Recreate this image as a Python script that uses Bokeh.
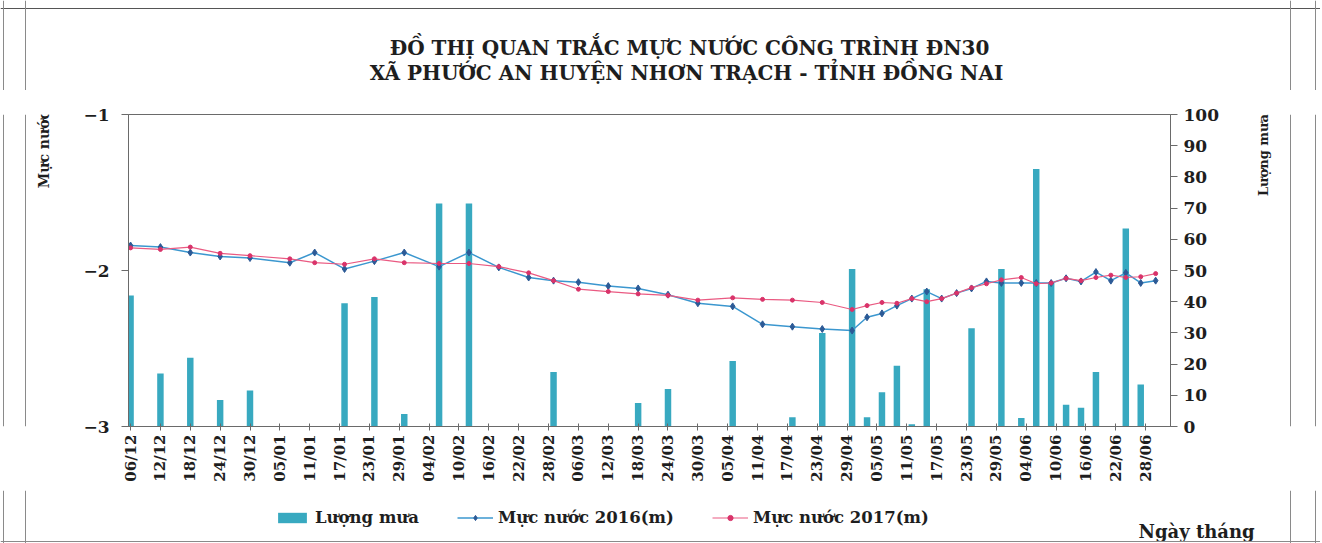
import pandas as pd
from math import pi
from bokeh.plotting import figure
from bokeh.layouts import column, row
from bokeh.models import (ColumnDataSource, Range1d, LinearAxis, FixedTicker,
                          SingleIntervalTicker, DatetimeTickFormatter, Label,
                          Legend, LegendItem, Span)
from bokeh.embed import file_html
from bokeh.resources import INLINE

# ---------------- data ----------------
dates = ["2016-12-06", "2016-12-12", "2016-12-18", "2016-12-24", "2016-12-30",
         "2017-01-07", "2017-01-12", "2017-01-18", "2017-01-24", "2017-01-30",
         "2017-02-06", "2017-02-12", "2017-02-18", "2017-02-24", "2017-03-01",
         "2017-03-06", "2017-03-12", "2017-03-18", "2017-03-24", "2017-03-30",
         "2017-04-06", "2017-04-12", "2017-04-18", "2017-04-24", "2017-04-30",
         "2017-05-03", "2017-05-06", "2017-05-09", "2017-05-12", "2017-05-15",
         "2017-05-18", "2017-05-21", "2017-05-24", "2017-05-27", "2017-05-30",
         "2017-06-03", "2017-06-06", "2017-06-09", "2017-06-12", "2017-06-15",
         "2017-06-18", "2017-06-21", "2017-06-24", "2017-06-27", "2017-06-30"]

level_2016 = [-1.84, -1.85, -1.885, -1.91, -1.92,
              -1.95, -1.885, -1.99, -1.94, -1.885,
              -1.975, -1.885, -1.98, -2.045, -2.065,
              -2.075, -2.10, -2.115, -2.155, -2.21,
              -2.23, -2.345, -2.36, -2.375, -2.385,
              -2.30, -2.275, -2.225, -2.18, -2.135,
              -2.18, -2.145, -2.115, -2.07, -2.08,
              -2.08, -2.08, -2.08, -2.05, -2.07,
              -2.01, -2.065, -2.015, -2.08, -2.065]

level_2017 = [-1.855, -1.865, -1.85, -1.89, -1.905,
              -1.925, -1.95, -1.96, -1.925, -1.95,
              -1.955, -1.955, -1.975, -2.015, -2.065,
              -2.12, -2.135, -2.15, -2.16, -2.19,
              -2.175, -2.185, -2.19, -2.205, -2.25,
              -2.225, -2.205, -2.21, -2.18, -2.20,
              -2.18, -2.145, -2.11, -2.085, -2.06,
              -2.045, -2.085, -2.08, -2.05, -2.065,
              -2.045, -2.03, -2.045, -2.04, -2.02]

rain = [42, 17, 22, 8.5, 11.5,
        0, 0, 39.5, 41.5, 4,
        71.5, 71.5, 0, 0, 17.5,
        0, 0, 7.5, 12, 0,
        21, 0, 3, 30, 50.5,
        3, 11, 19.5, 0.7, 44,
        0, 0, 31.5, 0, 50.5,
        2.7, 82.5, 46, 7, 6,
        17.5, 0, 63.5, 13.5, 0]

x_tick_labels = ["06/12", "12/12", "18/12", "24/12", "30/12", "05/01", "11/01",
                 "17/01", "23/01", "29/01", "04/02", "10/02", "16/02", "22/02",
                 "28/02", "06/03", "12/03", "18/03", "24/03", "30/03", "05/04",
                 "11/04", "17/04", "23/04", "29/04", "05/05", "11/05", "17/05",
                 "23/05", "29/05", "04/06", "10/06", "16/06", "22/06", "28/06"]

title_lines = ["ĐỒ THỊ QUAN TRẮC MỰC NƯỚC CÔNG TRÌNH ĐN30",
               "XÃ PHƯỚC AN HUYỆN NHƠN TRẠCH - TỈNH ĐỒNG NAI"]
series_names = ["Lượng mưa", "Mực nước 2016(m)", "Mực nước 2017(m)"]
left_axis_title = "Mực nước"
right_axis_title = "Lượng mưa"
x_axis_title = "Ngày tháng"

# ---------------- styles ----------------
FONT = "DejaVu Serif"
TXT = "#1e1e1e"
AXIS = "#6a6a6a"
BORDER = "#8a8a8a"
C_BAR = "#38a9c0"
C_L16, C_M16 = "#3b97cf", "#2c5a96"
C_L17, C_M17 = "#ea5a82", "#d9336a"

W_TOTAL = 1320
H_TOP, H_MID, H_BOT = 90, 400, 53
W_LEFT, W_MAIN = 80, 1145
W_RIGHT = W_TOTAL - W_LEFT - W_MAIN


def blank(w, h):
    f = figure(width=w, height=h, x_range=Range1d(0, w), y_range=Range1d(0, h),
               output_backend="svg", toolbar_location=None, min_border=0,
               x_axis_location=None, y_axis_location=None)
    f.outline_line_color = None
    f.background_fill_color = "white"
    f.border_fill_color = "white"
    for g in f.grid:
        g.visible = False
    return f


def text(f, s, x, y, size, align="center", angle=0.0):
    f.add_layout(Label(x=x, y=y, text=s, text_align=align, text_baseline="middle",
                       angle=angle, text_font=FONT, text_font_style="bold",
                       text_font_size=size, text_color=TXT))


def vline(f, x, color=BORDER):
    f.add_layout(Span(location=x, dimension="height", line_color=color, line_width=1))


def hline(f, y, color=BORDER):
    f.add_layout(Span(location=y, dimension="width", line_color=color, line_width=1))


def draw_series(f, source, y_range_name="default"):
    """Bars for rainfall and the two water-level lines with markers."""
    b = f.vbar(x="date", top="rain", bottom=0, width=1.3 * 86400000,
               source=source, y_range_name=y_range_name,
               fill_color=C_BAR, line_color=None)
    l16 = f.line(x="date", y="l16", source=source, line_color=C_L16, line_width=1.5)
    m16 = f.scatter(x="date", y="l16", source=source, marker="diamond", size=7,
                    fill_color=C_M16, line_color=C_M16)
    l17 = f.line(x="date", y="l17", source=source, line_color=C_L17, line_width=1.2)
    m17 = f.scatter(x="date", y="l17", source=source, marker="circle", size=4,
                    fill_color=C_M17, line_color=C_M17)
    return b, (l16, m16), (l17, m17)


# ---------------- main chart ----------------
src = ColumnDataSource(dict(date=pd.to_datetime(dates), l16=level_2016,
                            l17=level_2017, rain=rain))


def tick_ms(lbl):
    d, m = lbl.split("/")
    year = 2016 if m == "12" else 2017
    return pd.Timestamp(f"{year}-{m}-{d}").value / 1e6


x_start = pd.Timestamp("2016-12-06") - pd.Timedelta(hours=10)
x_end = x_start + pd.Timedelta(hours=209.4 * 24)

p = figure(width=W_MAIN, height=H_MID, x_axis_type="datetime",
           x_range=Range1d(x_start, x_end), y_range=Range1d(-3, -1),
           output_backend="svg", toolbar_location=None,
           min_border_left=43, min_border_right=W_MAIN - 1090,
           min_border_top=24, min_border_bottom=64)
p.extra_y_ranges = {"rain": Range1d(0, 100)}
p.background_fill_color = "white"
p.border_fill_color = "white"
p.xgrid.visible = False
p.ygrid.visible = False
p.outline_line_color = AXIS
p.outline_line_width = 1

draw_series(p, src, "rain")

xa = p.xaxis[0]
xa.ticker = FixedTicker(ticks=[tick_ms(t) for t in x_tick_labels])
xa.formatter = DatetimeTickFormatter(days="%d/%m", months="%d/%m", years="%d/%m",
                                     hours="%d/%m", minutes="%d/%m")
xa.major_label_orientation = pi / 2
xa.major_label_standoff = 4
xa.major_tick_in = 3
xa.major_tick_out = 4

ya = p.yaxis[0]
ya.ticker = FixedTicker(ticks=[-3, -2, -1])
ya.major_tick_in = 0
ya.major_tick_out = 7
ya.major_label_standoff = 12

ra = LinearAxis(y_range_name="rain", ticker=SingleIntervalTicker(interval=10))
ra.major_tick_in = 0
ra.major_tick_out = 7
ra.major_label_standoff = 6
p.add_layout(ra, "right")

for ax, size in ((xa, "15px"), (ya, "17px"), (ra, "17px")):
    ax.major_label_text_font = FONT
    ax.major_label_text_font_style = "bold"
    ax.major_label_text_font_size = size
    ax.major_label_text_color = TXT
    ax.minor_tick_line_color = None
    ax.axis_line_color = AXIS
    ax.major_tick_line_color = AXIS

# ---------------- title strip ----------------
top = blank(W_TOTAL, H_TOP)
text(top, title_lines[0], 689, H_TOP - 47, "20px")
text(top, title_lines[1], 686, H_TOP - 72, "20px")
hline(top, H_TOP - 8, "#555555")
for x in (3, 25, 1290, 1315):
    vline(top, x)

# ---------------- side strips ----------------
left = blank(W_LEFT, H_MID)
text(left, left_axis_title, 43, H_MID - (135 - H_TOP), "14px", angle=pi / 2)
vline(left, 3)
vline(left, 25)

right = blank(W_RIGHT, H_MID)
x0_right = W_LEFT + W_MAIN
text(right, right_axis_title, 1263 - x0_right, H_MID - (142 - H_TOP), "13px", angle=pi / 2)
vline(right, 1290 - x0_right)
vline(right, 1315 - x0_right)

# ---------------- legend strip ----------------
# The strip re-uses the same series (they fall far outside its pixel ranges,
# so only their legend swatches are visible).
bot = blank(W_TOTAL, H_BOT)
g_bar, g16, g17 = draw_series(bot, src)
legend = Legend(items=[LegendItem(label=series_names[0], renderers=[g_bar]),
                       LegendItem(label=series_names[1], renderers=list(g16)),
                       LegendItem(label=series_names[2], renderers=list(g17))],
                location=(274, 16), orientation="horizontal",
                label_text_font=FONT, label_text_font_style="bold",
                label_text_font_size="16.5px", label_text_color=TXT,
                glyph_width=36, glyph_height=13, label_standoff=5, spacing=38,
                padding=0, margin=0, border_line_color=None,
                background_fill_alpha=0)
bot.add_layout(legend, "center")
text(bot, x_axis_title, 1138, H_BOT - 531 + (H_TOP + H_MID), "18px", align="left")
hline(bot, 2)
for x in (3, 25, 1290, 1315):
    vline(bot, x)

layout = column(top, row(left, p, right), bot)
open("out.html", "w").write(file_html(layout, INLINE))
